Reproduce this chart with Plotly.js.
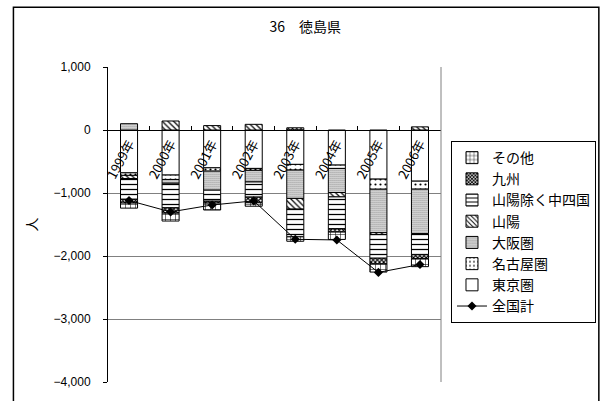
<!DOCTYPE html>
<html>
<head>
<meta charset="utf-8">
<script src="https://cdn.plot.ly/plotly-3.0.1.min.js"></script>
<style>
  html, body { margin: 0; padding: 0; background: #fff; }
  #chart { width: 608px; height: 401px; }
</style>
</head>
<body>
<div id="chart"></div>
<script>
var years = ['1999年', '2000年', '2001年', '2002年', '2003年', '2004年', '2005年', '2006年'];

var tokyo      = [-680, -715, -600, -610, -546, -557, -780, -812];
var nagoya     = [-40, -70, -53, -30, -90, -53, -160, -127];
var osaka      = [100, -60, -302, -185, -450, -382, -690, -705];
var sanyo      = [-50, 143, 70, 90, -170, -70, -30, 50];
var chushikoku = [-330, -390, -175, -240, -440, -505, -375, -335];
var kyushu     = [-60, -85, -30, -90, 35, -53, -90, -60];
var sonota     = [-80, -125, -110, -55, -70, -117, -130, -130];
var total      = [-1120, -1300, -1190, -1125, -1735, -1745, -2260, -2135];

var jp = '"Noto Sans CJK JP", "Liberation Sans", sans-serif';

function barTrace(name, values, pattern) {
  return {
    type: 'bar',
    name: name,
    x: years,
    y: values,
    marker: {
      color: '#ffffff',
      line: { color: '#000000', width: 1 },
      pattern: pattern
    }
  };
}

var lineTotal = {
  type: 'scatter',
  mode: 'lines+markers',
  name: '全国計',
  x: years,
  y: total,
  line: { color: '#000000', width: 1 },
  marker: { symbol: 'diamond', size: 7, color: '#000000' }
};

var data = [
  lineTotal,
  barTrace('東京圏', tokyo, { shape: '' }),
  barTrace('名古屋圏', nagoya, { shape: '.', size: 5, solidity: 0.15, fgcolor: '#000', bgcolor: '#fff' }),
  barTrace('大阪圏', osaka, { shape: '.', size: 2, solidity: 0.3, fgcolor: '#000', bgcolor: '#fff' }),
  barTrace('山陽', sanyo, { shape: '\\', size: 4, solidity: 0.3, fgcolor: '#000', bgcolor: '#fff' }),
  barTrace('山陽除く中四国', chushikoku, { shape: '-', size: 5, solidity: 0.25, fgcolor: '#000', bgcolor: '#fff' }),
  barTrace('九州', kyushu, { shape: 'x', size: 3, solidity: 0.6, fgcolor: '#000', bgcolor: '#fff' }),
  barTrace('その他', sonota, { shape: '+', size: 5, solidity: 0.2, fgcolor: '#000', bgcolor: '#fff' })
];

var layout = {
  width: 608,
  height: 401,
  margin: { l: 108, r: 165, t: 67, b: 19 },
  paper_bgcolor: '#ffffff',
  plot_bgcolor: '#ffffff',
  font: { family: jp, color: '#000000', size: 12 },
  barmode: 'relative',
  bargap: 0.59,
  showlegend: true,
  title: {
    text: '36　徳島県',
    font: { family: jp, size: 14, color: '#000' },
    x: 0.502, xref: 'container', xanchor: 'center',
    y: 0.933, yref: 'container', yanchor: 'middle'
  },
  xaxis: {
    type: 'category',
    anchor: 'free',
    position: 0.8,
    showline: true,
    linecolor: '#000000',
    linewidth: 1,
    ticks: 'inside',
    ticklen: 4,
    tickcolor: '#000000',
    tickson: 'boundaries',
    tickangle: -62,
    tickfont: { family: jp, size: 13, color: '#000' },
    showgrid: false,
    zeroline: false
  },
  yaxis: {
    range: [-4000, 1000],
    dtick: 1000,
    tickformat: ',d',
    showline: true,
    linecolor: '#000000',
    linewidth: 1,
    ticks: 'outside',
    ticklen: 4,
    tickcolor: '#000000',
    ticklabelstandoff: 10,
    tickfont: { family: '"Liberation Sans", Arial, sans-serif', size: 12, color: '#000' },
    showgrid: true,
    gridcolor: '#808080',
    gridwidth: 1,
    zeroline: false,
    title: { text: '人', font: { family: jp, size: 14, color: '#000' }, standoff: 12 }
  },
  legend: {
    x: 1.03, xanchor: 'left',
    y: 0.765, yanchor: 'top',
    traceorder: 'reversed',
    bgcolor: '#ffffff',
    bordercolor: '#000000',
    borderwidth: 1,
    font: { family: jp, size: 14, color: '#000' },
    tracegroupgap: 0
  },
  shapes: [
    { type: 'line', xref: 'paper', yref: 'paper', x0: 1, x1: 1, y0: 0, y1: 1,
      line: { color: '#808080', width: 1 } },
    { type: 'rect', xref: 'paper', yref: 'paper', x0: -0.284, x1: 1.474, y0: -0.08, y1: 1.19,
      line: { color: '#000000', width: 1.5 }, fillcolor: 'rgba(0,0,0,0)' }
  ]
};

Plotly.newPlot('chart', data, layout, { displayModeBar: false, staticPlot: true });
</script>
</body>
</html>
